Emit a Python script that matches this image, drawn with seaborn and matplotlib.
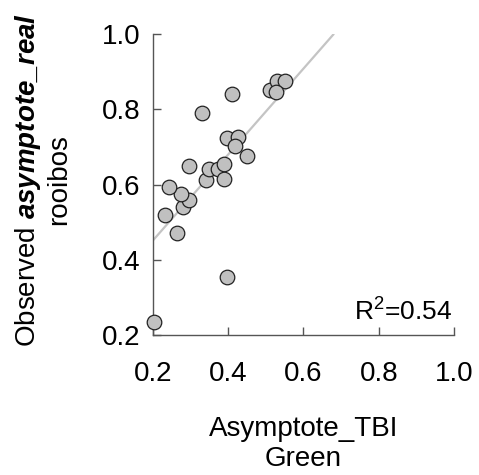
import numpy as np
import pandas as pd
import matplotlib
import matplotlib.pyplot as plt
import seaborn as sns

matplotlib.use('Agg')

# values
tbi_green = [0.202, 0.398, 0.265, 0.233, 0.281, 0.295, 0.276, 0.244, 0.296, 0.342, 0.350, 0.372,
             0.388, 0.388, 0.330, 0.410, 0.396, 0.427, 0.417, 0.450, 0.510, 0.529, 0.550, 0.527]
real_rooibos = [0.235, 0.353, 0.472, 0.518, 0.540, 0.560, 0.574, 0.593, 0.649, 0.611, 0.641, 0.642,
                0.655, 0.614, 0.790, 0.840, 0.724, 0.727, 0.703, 0.676, 0.852, 0.876, 0.875, 0.847]
# fitted line as shown in the figure
fit_intercept = 0.222
fit_slope = 1.144
r2_text = 'R$^2$=0.54'
ticks = [0.2, 0.4, 0.6, 0.8, 1.0]

df = pd.DataFrame({'tbi': tbi_green, 'real': real_rooibos})

sns.set_style('ticks')
plt.rcParams['font.family'] = ['Liberation Sans', 'DejaVu Sans']
plt.rcParams['text.color'] = 'black'
plt.rcParams['axes.labelcolor'] = 'black'
plt.rcParams['mathtext.fontset'] = 'custom'
plt.rcParams['mathtext.rm'] = 'Liberation Sans'
plt.rcParams['mathtext.it'] = 'Liberation Sans:italic'
plt.rcParams['mathtext.bf'] = 'Liberation Sans:bold'
plt.rcParams['mathtext.bfit'] = 'Liberation Sans:bold:italic'

fig = plt.figure(figsize=(4.79, 4.75), dpi=100)
ax = fig.add_axes([0.319, 0.295, 0.629, 0.633])

ax.axline((0, fit_intercept), slope=fit_slope, color='#c4c4c4', lw=1.6, zorder=1)
sns.scatterplot(data=df, x='tbi', y='real', s=110, color='#c0c0c0', edgecolor='#222222',
                linewidth=0.9, zorder=3, clip_on=False, legend=False, ax=ax)

ax.set_xlim(0.2, 1.0)
ax.set_ylim(0.2, 1.0)
ax.set_xticks(ticks)
ax.set_yticks(ticks)
ax.set_xticklabels([f'{t:.1f}' for t in ticks])
ax.set_yticklabels([f'{t:.1f}' for t in ticks])
ax.spines['right'].set_visible(False)
ax.spines['top'].set_visible(False)
for s in ['left', 'bottom']:
    ax.spines[s].set_color('#555555')
    ax.spines[s].set_linewidth(1.0)
ax.tick_params(axis='both', direction='in', length=6, width=1.0, color='#555555',
               labelsize=20, labelcolor='black')
ax.tick_params(axis='x', pad=19)
ax.tick_params(axis='y', pad=9)

ax.set_xlabel('Asymptote_TBI\nGreen', fontsize=20, labelpad=21, linespacing=1.2)
ax.set_ylabel('Observed $\\mathbfit{asymptote\\_real}$\nrooibos', fontsize=20, labelpad=21,
              linespacing=1.2)
ax.yaxis.label.set_y(0.515)

ax.text(0.995, 0.03, r2_text, transform=ax.transAxes, ha='right', va='bottom', fontsize=19)

fig.savefig('out.png', dpi=100)
